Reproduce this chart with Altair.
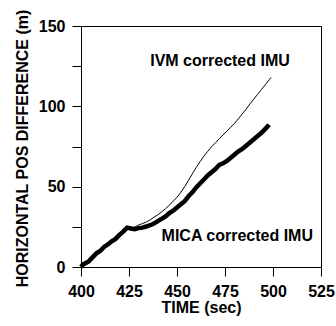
import altair as alt
import pandas as pd

# MICA corrected IMU (thick line)
mica_time = [400, 401, 402.5, 404, 406, 408, 410, 412, 414, 416, 418, 420, 422, 424,
             426, 428, 430, 432, 434, 436, 438, 440, 442, 444, 446, 448, 450, 452,
             454, 456, 458, 460, 462, 464, 466, 468, 470, 472, 474, 476, 478, 480,
             482, 484, 486, 488, 490, 492, 494, 496, 498]
mica_diff = [0, 1.5, 2.5, 3.5, 6, 8.5, 10, 12.5, 14, 16, 17.5, 20, 22, 24.5,
             24, 23.5, 24.2, 24.5, 25.2, 26, 27, 28.5, 30, 31.5, 33.5, 35, 37, 39,
             41, 44, 46.5, 49.5, 52, 54.5, 57, 59, 61, 63.5, 64.5, 66, 68, 70,
             72, 73.5, 75.5, 77.5, 79.5, 81.5, 83.5, 86, 88.5]

# IVM corrected IMU (thin line)
ivm_time = [400, 401, 402.5, 404, 406, 408, 410, 412, 414, 416, 418, 420, 422, 424,
            426, 428, 430, 432, 434, 436, 438, 440, 442, 444, 446, 448, 450, 452,
            454, 456, 458, 460, 462, 464, 466, 468, 470, 472, 474, 476, 478, 480,
            482, 484, 486, 488, 490, 492, 494, 496, 498, 499]
ivm_diff = [0, 1.5, 2.5, 3.5, 6, 8.5, 10, 12.5, 14, 16, 17.5, 20, 22, 24.5,
            24.3, 24.8, 26.2, 27, 28, 29.3, 31, 32.5, 34.3, 36.3, 38.5, 41, 43.5, 46.5,
            50, 54, 58, 62, 65.5, 69, 72, 74.8, 77.3, 79.8, 82.2, 84.6, 87, 89.5,
            92.3, 95.3, 98.3, 101.5, 104.5, 107.5, 110.5, 113.5, 116.5, 118]

# Annotation labels
label_text = ["IVM corrected IMU", "MICA corrected IMU"]
label_time = [472.4, 481.4]
label_diff = [125.3, 16.2]

x_ticks = [400, 412.5, 425, 437.5, 450, 462.5, 475, 487.5, 500, 512.5, 525]
y_ticks = [0, 25, 50, 75, 100, 125, 150]

FONT = "Liberation Sans"

mica_df = pd.DataFrame({"t": mica_time, "v": mica_diff})
ivm_df = pd.DataFrame({"t": ivm_time, "v": ivm_diff})
lab_df = pd.DataFrame({"t": label_time, "v": label_diff, "text": label_text})

x_scale = alt.Scale(domain=[400, 525], nice=False, zero=False)
y_scale = alt.Scale(domain=[0, 150], nice=False)

x_axis = alt.Axis(values=x_ticks, title="TIME (sec)",
                  labelExpr="datum.value % 25 == 0 ? datum.label : ''",
                  labelPadding=7, titleY=45, titleBaseline="alphabetic")
y_axis = alt.Axis(values=y_ticks, title="HORIZONTAL POS DIFFERENCE (m)",
                  labelExpr="datum.value % 50 == 0 ? datum.label : ''",
                  labelPadding=7, titleX=-54, titleY=122, titleAngle=270,
                  titleAlign="center", titleBaseline="alphabetic")

ivm_line = alt.Chart(ivm_df).mark_line(color="black", strokeWidth=1).encode(
    x=alt.X("t:Q", scale=x_scale, axis=x_axis),
    y=alt.Y("v:Q", scale=y_scale, axis=y_axis),
)
mica_line = alt.Chart(mica_df).mark_line(color="black", strokeWidth=4.5).encode(
    x=alt.X("t:Q", scale=x_scale),
    y=alt.Y("v:Q", scale=y_scale),
)
labels = alt.Chart(lab_df).mark_text(
    font=FONT, fontSize=16, fontWeight="bold", color="black",
    align="center", baseline="alphabetic"
).encode(
    x=alt.X("t:Q", scale=x_scale),
    y=alt.Y("v:Q", scale=y_scale),
    text="text:N",
)

chart = alt.layer(ivm_line, mica_line, labels).properties(
    width=240, height=241,
    padding={"left": 81, "top": 26, "right": 15, "bottom": 59},
    autosize=alt.AutoSizeParams(type="none"),
    background="white",
).configure_view(
    stroke="black", strokeWidth=1
).configure_axis(
    grid=False,
    domainColor="black", domainWidth=1,
    tickColor="black", tickSize=9, tickWidth=1,
    labelFont=FONT, labelFontSize=16, labelFontWeight="bold", labelColor="black",
    labelOverlap=False, labelFlush=False,
    titleFont=FONT, titleFontSize=16, titleFontWeight="bold", titleColor="black",
)

chart.save("out.html", embed_options={"renderer": "svg", "actions": False})
